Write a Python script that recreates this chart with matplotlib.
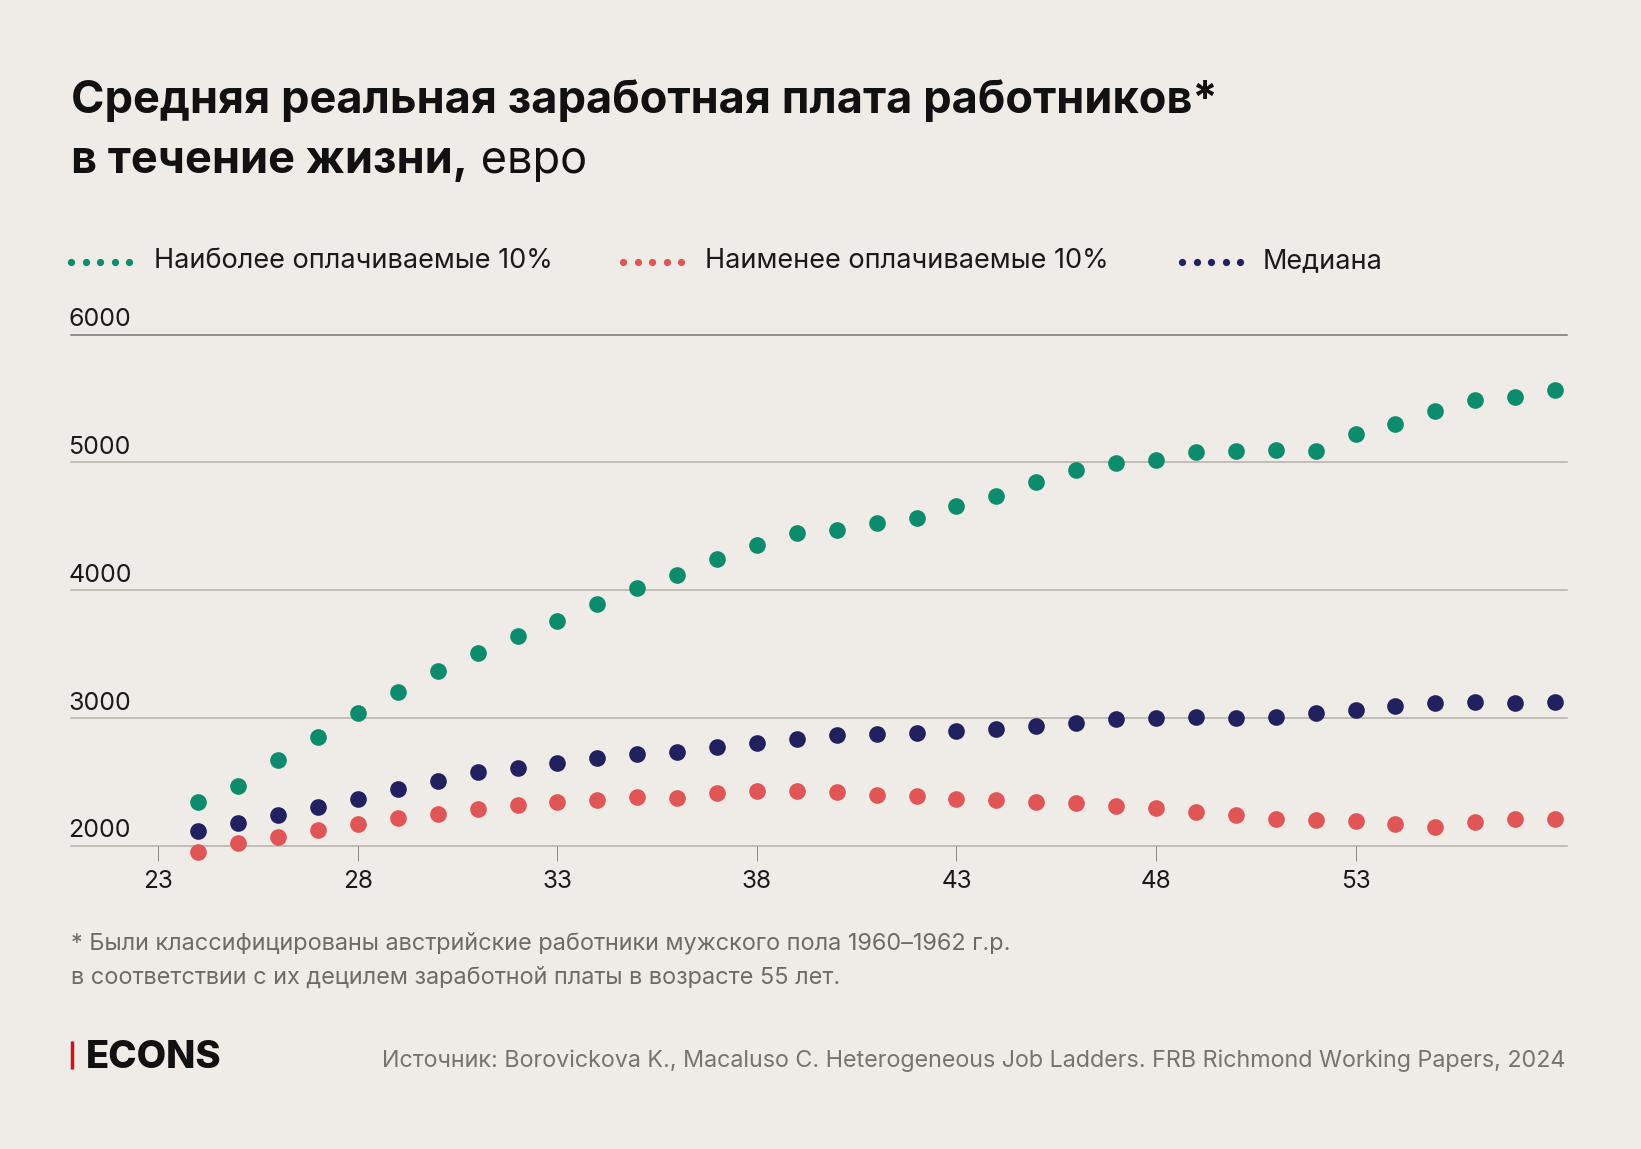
import numpy as np
import matplotlib.pyplot as plt
from matplotlib.transforms import blended_transform_factory

plt.rcParams['font.family'] = ['Inter', 'DejaVu Sans']

# data (euro per month)
ages = np.arange(24, 59)
top10 = [2342, 2467, 2670, 2848, 3036, 3205, 3367, 3508, 3641, 3761,
         3894, 4014, 4116, 4246, 4353, 4444, 4468, 4523, 4564, 4661,
         4739, 4848, 4937, 4995, 5016, 5083, 5091, 5094, 5088, 5224,
         5302, 5401, 5488, 5511, 5566]
bottom10 = [1951, 2023, 2068, 2123, 2167, 2219, 2250, 2290, 2321, 2342,
            2355, 2381, 2376, 2410, 2431, 2431, 2423, 2397, 2386, 2365,
            2355, 2339, 2334, 2311, 2298, 2266, 2238, 2212, 2201, 2193,
            2167, 2144, 2185, 2206, 2209]
median = [2115, 2180, 2238, 2303, 2368, 2441, 2509, 2574, 2606, 2650,
          2686, 2720, 2731, 2775, 2804, 2837, 2864, 2874, 2879, 2895,
          2913, 2937, 2962, 2994, 3002, 3005, 3002, 3005, 3036, 3060,
          3093, 3119, 3124, 3119, 3121]
xticks = [23, 28, 33, 38, 43, 48, 53]
yticks = [2000, 3000, 4000, 5000, 6000]

series_names = ['Наиболее оплачиваемые 10%', 'Наименее оплачиваемые 10%', 'Медиана']
colors = ['#0d8c6d', '#e05656', '#222160']

bg = '#efece7'
W, H = 1641, 1149
fig = plt.figure(figsize=(W / 100, H / 100), dpi=100, facecolor=bg)

# main axes
ax = fig.add_axes([71 / W, 1 - 845.7 / H, (1567 - 71) / W, 511.2 / H])
ax.set_facecolor(bg)
ax.set_xlim(20.81, 58.30)
ax.set_ylim(2000, 6000)
for s in ax.spines.values():
    s.set_visible(False)

for v in yticks:
    c = '#77736f' if v == 6000 else '#b3b0aa'
    ax.axhline(v, color=c, lw=1.1, zorder=1, clip_on=False)

trans = blended_transform_factory(ax.transAxes, ax.transData)
for v in yticks:
    ax.annotate(str(v), xy=(0, v), xycoords=trans, xytext=(-2, 6),
                textcoords='offset points', ha='left', va='baseline',
                fontsize=18, color='#1a1a1a')

ax.set_yticks([])
ax.set_xticks(xticks)
ax.set_xticklabels([str(t) for t in xticks], fontsize=17.5, color='#1a1a1a')
ax.tick_params(axis='x', length=10.5, width=0.7, color='#8a8784', pad=7)

for vals, c in zip([top10, bottom10, median], colors):
    ax.plot(ages, vals, 'o', ms=12, color=c, mec='none', clip_on=False, zorder=3)

# overlay in pixel coordinates for titles, legend and notes
ov = fig.add_axes([0, 0, 1, 1], facecolor='none')
ov.set_xlim(0, W)
ov.set_ylim(H, 0)
ov.axis('off')

ov.text(71, 113, 'Средняя реальная заработная плата работников*',
        fontsize=32.5, fontweight='bold', color='#111111', va='baseline')
t2 = ov.text(71, 173, 'в течение жизни,', fontsize=32.5, fontweight='bold',
             color='#111111', va='baseline')
ov.annotate(' евро', xy=(1, 0), xycoords=t2, fontsize=32.5, color='#111111',
            va='bottom')

leg_dots = [71, 623, 1182]
leg_text = [154, 705, 1263]
for x0, xt, name, c in zip(leg_dots, leg_text, series_names, colors):
    ov.plot(x0 + np.arange(5) * 14.5, [261.5] * 5, 'o', ms=5.2, color=c, mec='none')
    ov.text(xt, 261, name, fontsize=19.5, color='#1a1a1a', va='center')

ov.text(71, 949, '* Были классифицированы австрийские работники мужского пола 1960–1962 г.р.',
        fontsize=16.9, color='#6e6a66', va='baseline')
ov.text(71, 984, 'в соответствии с их децилем заработной платы в возрасте 55 лет.',
        fontsize=16.9, color='#6e6a66', va='baseline')

ov.plot([71.5, 71.5], [1041, 1069], color='#d0121b', lw=2.5, solid_capstyle='butt')
ov.text(86, 1068, 'ECONS', fontsize=27.5, fontweight='heavy', color='#111111', va='baseline')
ov.text(1566, 1067, 'Источник: Borovickova K., Macaluso C. Heterogeneous Job Ladders. '
        'FRB Richmond Working Papers, 2024',
        fontsize=16.8, color='#77736f', ha='right', va='baseline')

fig.savefig('out.png', dpi=100, facecolor=bg)
